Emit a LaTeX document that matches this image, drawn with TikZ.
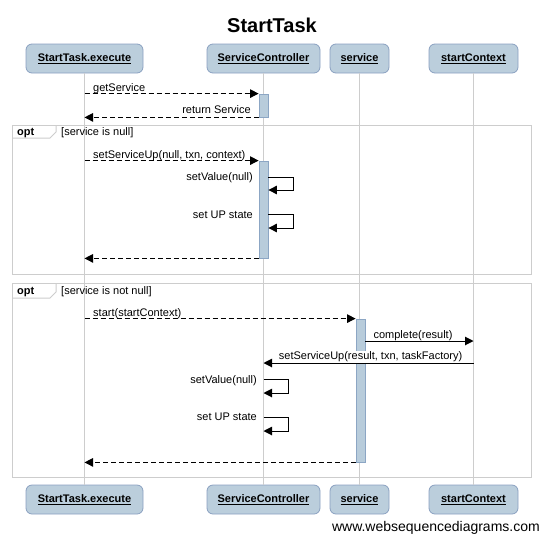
\documentclass[tikz,border=0pt]{standalone}
\usepackage{fontspec}
\setmainfont{Liberation Sans}
\usetikzlibrary{arrows.meta}
\definecolor{headfill}{RGB}{187,206,220}
\definecolor{headdraw}{RGB}{138,160,192}
\definecolor{actfill}{RGB}{184,204,219}
\definecolor{actdraw}{RGB}{140,166,196}
\definecolor{lifegray}{RGB}{205,205,205}
\tikzset{
  x=1pt, y=-1pt,
  headbox/.style={draw=headdraw, fill=headfill, rounded corners=6pt, line width=0.8pt,
    minimum height=29pt, inner sep=0pt, font=\fontsize{11}{13}\selectfont\bfseries},
  actbar/.style={draw=actdraw, fill=actfill, line width=0.8pt, minimum width=9pt, inner sep=0pt},
  lifeline/.style={draw=lifegray, line width=1pt},
  framebox/.style={draw=lifegray, line width=1pt},
  msg/.style={line width=1pt, -{Triangle[length=8.5pt,width=8.5pt]}},
  dmsg/.style={msg, dash pattern=on 5pt off 3pt},
  lbl/.style={inner sep=0pt, font=\fontsize{11}{13}\selectfont},
  wlbl/.style={lbl, fill=white, inner ysep=1pt, inner xsep=0.5pt},
  optlbl/.style={inner sep=0pt, font=\fontsize{11}{13}\selectfont\bfseries},
}
\begin{document}
\begin{tikzpicture}
\useasboundingbox (0,0) rectangle (540,536);
% title
\node[inner sep=0pt, font=\fontsize{20}{24}\selectfont\bfseries, anchor=base] (title) at (272,32) {StartTask};
% heads
\node[headbox, minimum width=117pt] (h1) at (84.5,58.5) {\underline{StartTask.execute}};
\node[headbox, minimum width=113pt] (h2) at (263.5,58.5) {\underline{ServiceController}};
\node[headbox, minimum width=59pt] (h3) at (359.5,58.5) {\underline{service}};
\node[headbox, minimum width=89pt] (h4) at (473.5,58.5) {\underline{startContext}};
\node[headbox, minimum width=117pt] (b1) at (84.5,499.5) {\underline{StartTask.execute}};
\node[headbox, minimum width=113pt] (b2) at (263.5,499.5) {\underline{ServiceController}};
\node[headbox, minimum width=59pt] (b3) at (359.5,499.5) {\underline{service}};
\node[headbox, minimum width=89pt] (b4) at (473.5,499.5) {\underline{startContext}};
% lifelines
\draw[lifeline] (h1.south) -- (b1.north);
\draw[lifeline] (h2.south) -- (b2.north);
\draw[lifeline] (h3.south) -- (b3.north);
\draw[lifeline] (h4.south) -- (b4.north);
% frames
\draw[framebox] (12,125) rectangle (531,274);
\draw[framebox] (12,138) -- (50,138) -- (56,132) -- (56,125);
\draw[framebox] (12,283) rectangle (531,477);
\draw[framebox] (12,298) -- (50,298) -- (56,292) -- (56,283);
\node[optlbl, anchor=base west] (opt1) at (17,135.5) {opt};
\node[lbl, anchor=base west] (g1) at (61,135.5) {[service is null]};
\node[optlbl, anchor=base west] (opt2) at (17,294) {opt};
\node[lbl, anchor=base west] (g2) at (61,294) {[service is not null]};
% activation bars
\node[actbar, minimum height=23pt] (act1) at (263.5,105.5) {};
\node[actbar, minimum height=97pt] (act2) at (263.5,209.5) {};
\node[actbar, minimum height=143pt] (act3) at (360.5,390.5) {};
% coordinates on lifelines
\coordinate (p1) at (h1.south |- act1.north);
\coordinate (p2) at (h1.south |- act1.south);
\coordinate (p3) at (h1.south |- act2.north);
\coordinate (p4) at (h1.south |- act2.south);
\coordinate (p5) at (h1.south |- act3.north);
\coordinate (p6) at (h1.south |- act3.south);
\coordinate (c1) at (act3.east |- 0,341);
\coordinate (c2) at (h4.south |- 0,341);
\coordinate (c3) at (h4.south |- 0,363);
\coordinate (c4) at (h2.south |- 0,363);
% message 1
\draw[dmsg] (p1) -- (act1.north west);
\node[lbl, anchor=base west] (l1) at (93,91) {getService};
\draw[dmsg] (act1.south west) -- (p2);
\node[lbl, anchor=base east] (l2) at (251,113.5) {return Service};
% opt 1
\draw[dmsg] (p3) -- (act2.north west);
\node[lbl, anchor=base west] (l3) at (93,158) {setServiceUp(null, txn, context)};
\coordinate (s1a) at (act2.east |- 0,177);
\coordinate (s1b) at (act2.east |- 0,190);
\draw[msg] (s1a) -- (293,177) -- (293,190) -- (s1b);
\node[lbl, anchor=base east] (l4) at (253,180.5) {setValue(null)};
\coordinate (s2a) at (act2.east |- 0,214);
\coordinate (s2b) at (act2.east |- 0,228);
\draw[msg] (s2a) -- (293,214) -- (293,228) -- (s2b);
\node[lbl, anchor=base east] (l5) at (253,218) {set UP state};
\draw[dmsg] (act2.south west) -- (p4);
% opt 2
\draw[dmsg] (p5) -- (act3.north west);
\node[lbl, anchor=base west] (l6) at (93,316) {start(startContext)};
\draw[msg] (c1) -- (c2);
\node[lbl, anchor=base] (l7) at (413,338) {complete(result)};
\draw[msg] (c3) -- (c4);
\node[wlbl, anchor=base east] (l8) at (463,359.5) {setServiceUp(result, txn, taskFactory)};
\coordinate (s3a) at (h2.south |- 0,379);
\coordinate (s3b) at (h2.south |- 0,393);
\draw[msg] (s3a) -- (288,379) -- (288,393) -- (s3b);
\node[lbl, anchor=base east] (l9) at (257,383) {setValue(null)};
\coordinate (s4a) at (h2.south |- 0,417);
\coordinate (s4b) at (h2.south |- 0,431);
\draw[msg] (s4a) -- (288,417) -- (288,431) -- (s4b);
\node[lbl, anchor=base east] (l10) at (257,420.5) {set UP state};
\draw[dmsg] (act3.south west) -- (p6);
% footer
\node[inner sep=0pt, font=\fontsize{14}{16}\selectfont, anchor=base east] (foot) at (540,531) {www.websequencediagrams.com};
\end{tikzpicture}
\end{document}
